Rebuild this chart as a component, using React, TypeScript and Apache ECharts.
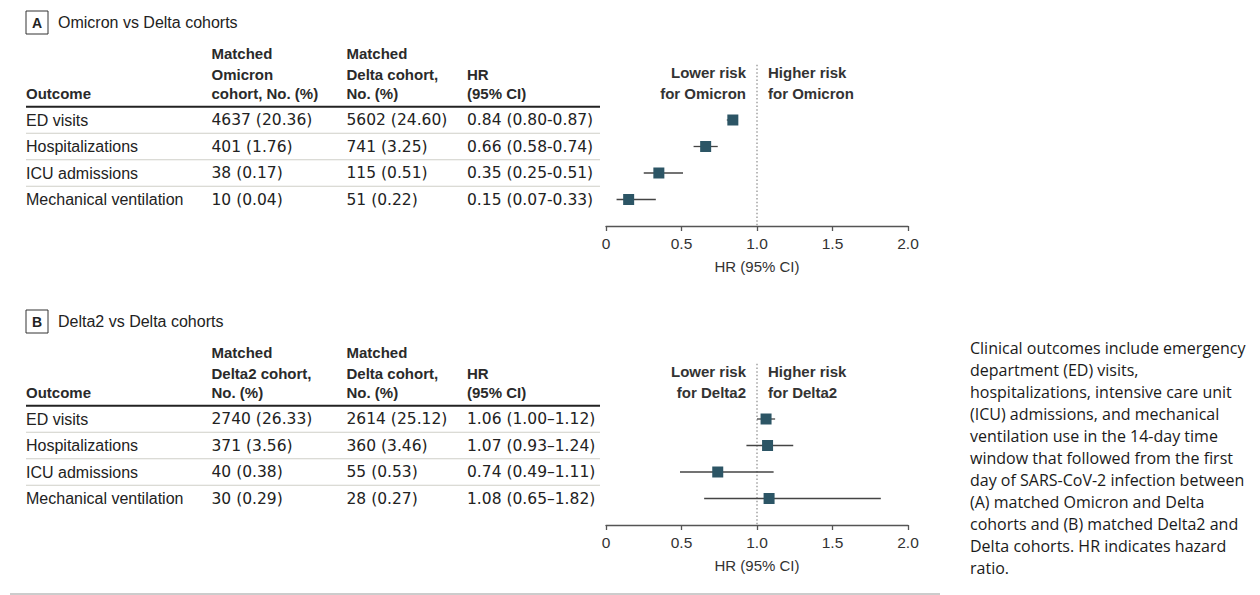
import React, { useEffect, useRef } from "react";
import * as echarts from "echarts";

// ---------- data ----------
const outcomes = ["ED visits", "Hospitalizations", "ICU admissions", "Mechanical ventilation"];

// Panel A: Omicron vs Delta
const omicronN = [4637, 401, 38, 10];
const omicronPct = [20.36, 1.76, 0.17, 0.04];
const deltaAN = [5602, 741, 115, 51];
const deltaAPct = [24.6, 3.25, 0.51, 0.22];
const hrA = [0.84, 0.66, 0.35, 0.15];
const loA = [0.8, 0.58, 0.25, 0.07];
const hiA = [0.87, 0.74, 0.51, 0.33];

// Panel B: Delta2 vs Delta
const delta2N = [2740, 371, 40, 30];
const delta2Pct = [26.33, 3.56, 0.38, 0.29];
const deltaBN = [2614, 360, 55, 28];
const deltaBPct = [25.12, 3.46, 0.53, 0.27];
const hrB = [1.06, 1.07, 0.74, 1.08];
const loB = [1.0, 0.93, 0.49, 0.65];
const hiB = [1.12, 1.24, 1.11, 1.82];

const xMin = 0;
const xMax = 2;
const xInterval = 0.5;
const REF_HR = 1;

const captionLines = [
  "Clinical outcomes include emergency",
  "department (ED) visits,",
  "hospitalizations, intensive care unit",
  "(ICU) admissions, and mechanical",
  "ventilation use in the 14-day time",
  "window that followed from the first",
  "day of SARS-CoV-2 infection between",
  "(A) matched Omicron and Delta",
  "cohorts and (B) matched Delta2 and",
  "Delta cohorts. HR indicates hazard",
  "ratio.",
];

// ---------- layout / style ----------
const FONT = '"Liberation Sans", Arial, sans-serif';
const NUMFONT = '"DejaVu Sans", sans-serif';
const CAPFONT = '"Open Sans", "Noto Sans", sans-serif';
const TXT = "#222";
const MARK = "#2c5565";
const PANEL_DY = 299;
const COLS = [26, 211.5, 346.5, 467];
const TABLE_RIGHT = 600;
const HEAD_Y = [53, 74, 93.5];
const GRID_TOP = 106.75;
const ROW_H = 26.5;
const GRID_LEFT = 606;
const GRID_W = 302;

type Panel = {
  letter: string;
  title: string;
  group: string;
  col2: string[];
  col3: string[];
  aN: number[];
  aPct: number[];
  bN: number[];
  bPct: number[];
  hr: number[];
  lo: number[];
  hi: number[];
  dash: string;
};

const panels: Panel[] = [
  {
    letter: "A",
    title: "Omicron vs Delta cohorts",
    group: "Omicron",
    col2: ["Matched", "Omicron", "cohort, No. (%)"],
    col3: ["Matched", "Delta cohort,", "No. (%)"],
    aN: omicronN,
    aPct: omicronPct,
    bN: deltaAN,
    bPct: deltaAPct,
    hr: hrA,
    lo: loA,
    hi: hiA,
    dash: "-",
  },
  {
    letter: "B",
    title: "Delta2 vs Delta cohorts",
    group: "Delta2",
    col2: ["Matched", "Delta2 cohort,", "No. (%)"],
    col3: ["Matched", "Delta cohort,", "No. (%)"],
    aN: delta2N,
    aPct: delta2Pct,
    bN: deltaBN,
    bPct: deltaBPct,
    hr: hrB,
    lo: loB,
    hi: hiB,
    dash: "\u2013",
  },
];

function txt(x: number, y: number, text: string, o: any = {}) {
  return {
    type: "text",
    x,
    y,
    silent: true,
    style: {
      text,
      fill: o.fill || TXT,
      fontSize: o.fontSize || 16,
      fontFamily: o.fontFamily || FONT,
      fontWeight: o.fontWeight || "normal",
      align: o.align || "left",
      verticalAlign: o.verticalAlign || "middle",
      lineHeight: o.lineHeight,
    },
  };
}

function hline(x1: number, x2: number, y: number, stroke: string, lineWidth: number) {
  return {
    type: "line",
    silent: true,
    shape: { x1, y1: y, x2, y2: y },
    style: { stroke, lineWidth },
  };
}

function tableGraphics(p: Panel, k: number) {
  const dy = k * PANEL_DY;
  const els: any[] = [];
  els.push({
    type: "rect",
    silent: true,
    shape: { x: 26, y: 11 + dy, width: 22, height: 23 },
    style: { fill: "#fff", stroke: "#333", lineWidth: 1 },
  });
  els.push(txt(37, 22.5 + dy, p.letter, { align: "center", fontWeight: "bold", fontSize: 14 }));
  els.push(txt(58, 22 + dy, p.title, { fontSize: 16 }));
  const hb = { fontWeight: "bold", fontSize: 15, fill: "#2a2a2a" };
  els.push(txt(COLS[0], HEAD_Y[2] + dy, "Outcome", hb));
  p.col2.forEach((t, i) => els.push(txt(COLS[1], HEAD_Y[i] + dy, t, hb)));
  p.col3.forEach((t, i) => els.push(txt(COLS[2], HEAD_Y[i] + dy, t, hb)));
  els.push(txt(COLS[3], HEAD_Y[1] + dy, "HR", hb));
  els.push(txt(COLS[3], HEAD_Y[2] + dy, "(95% CI)", hb));
  els.push(hline(26, TABLE_RIGHT, GRID_TOP + dy, "#222", 2));
  for (let i = 1; i < outcomes.length; i++) {
    els.push(hline(26, TABLE_RIGHT, GRID_TOP + i * ROW_H + dy, "#cfcfc8", 1));
  }
  outcomes.forEach((o, i) => {
    const y = GRID_TOP + (i + 0.5) * ROW_H + dy;
    els.push(txt(COLS[0], y, o));
    const nf = { fontFamily: NUMFONT, fontSize: 15.5 };
    els.push(txt(COLS[1], y, `${p.aN[i]} (${p.aPct[i].toFixed(2)})`, nf));
    els.push(txt(COLS[2], y, `${p.bN[i]} (${p.bPct[i].toFixed(2)})`, nf));
    els.push(
      txt(
        COLS[3],
        y,
        `${p.hr[i].toFixed(2)} (${p.lo[i].toFixed(2)}${p.dash}${p.hi[i].toFixed(2)})`,
        nf
      )
    );
  });
  return els;
}

function buildOption() {
  const graphic: any[] = [];
  panels.forEach((p, k) => graphic.push(...tableGraphics(p, k)));
  graphic.push(hline(10, 940, 594, "#999", 1));
  graphic.push({
    type: "text",
    x: 970,
    y: 337,
    silent: true,
    style: {
      text: captionLines.join("\n"),
      fill: "#1a1a1a",
      fontSize: 16,
      fontFamily: CAPFONT,
      lineHeight: 22,
      align: "left",
      verticalAlign: "top",
    },
  });

  const grid = panels.map((_, k) => ({
    left: GRID_LEFT,
    width: GRID_W,
    top: GRID_TOP + k * PANEL_DY,
    height: ROW_H * 4.5,
  }));

  const xAxis = panels.map((_, k) => ({
    gridIndex: k,
    type: "value",
    position: "bottom",
    min: xMin,
    max: xMax,
    interval: xInterval,
    name: "HR (95% CI)",
    nameLocation: "middle",
    nameGap: 33,
    nameTextStyle: { fontSize: 15, color: "#333", fontFamily: FONT },
    axisLine: { show: true, onZero: false, lineStyle: { color: "#555", width: 1.3 } },
    axisTick: { show: true, length: 5, lineStyle: { color: "#555", width: 1.3 } },
    axisLabel: {
      fontSize: 15.5,
      color: "#333",
      fontFamily: FONT,
      margin: 9,
      formatter: (v: number) => (v === 0 ? "0" : v.toFixed(1)),
    },
    splitLine: { show: false },
  }));

  const yAxis = panels.map((_, k) => ({
    gridIndex: k,
    type: "value",
    min: -0.5,
    max: 4,
    inverse: true,
    show: false,
  }));

  const series: any[] = [];
  panels.forEach((p, k) => {
    series.push({
      type: "custom",
      xAxisIndex: k,
      yAxisIndex: k,
      silent: true,
      clip: false,
      z: 1,
      data: [[REF_HR]],
      encode: { x: 0 },
      renderItem: (params: any, api: any) => {
        const c = api.coord([api.value(0), 0]);
        const cs = params.coordSys;
        const lab = (x: number, y: number, t: string, align: string) => ({
          type: "text",
          x,
          y,
          style: {
            text: t,
            fill: "#333",
            fontSize: 15,
            fontWeight: "bold",
            fontFamily: FONT,
            align,
            verticalAlign: "middle",
          },
        });
        return {
          type: "group",
          children: [
            {
              type: "line",
              shape: { x1: c[0], y1: cs.y - 42, x2: c[0], y2: cs.y + cs.height },
              style: { stroke: "#8a8a8a", lineWidth: 1.2, lineDash: [1.5, 2.2] },
            },
            lab(c[0] - 11, cs.y - 34, "Lower risk", "right"),
            lab(c[0] - 11, cs.y - 13.5, "for " + p.group, "right"),
            lab(c[0] + 11, cs.y - 34, "Higher risk", "left"),
            lab(c[0] + 11, cs.y - 13.5, "for " + p.group, "left"),
          ],
        };
      },
    });
    series.push({
      type: "custom",
      xAxisIndex: k,
      yAxisIndex: k,
      silent: true,
      clip: false,
      z: 2,
      data: p.hr.map((_, i) => [i, p.lo[i], p.hi[i]]),
      encode: { x: [1, 2], y: 0 },
      renderItem: (params: any, api: any) => {
        const a = api.coord([api.value(1), api.value(0)]);
        const b = api.coord([api.value(2), api.value(0)]);
        return {
          type: "line",
          shape: { x1: a[0], y1: a[1], x2: b[0], y2: b[1] },
          style: { stroke: "#444", lineWidth: 1.3 },
        };
      },
    });
    series.push({
      type: "scatter",
      xAxisIndex: k,
      yAxisIndex: k,
      silent: true,
      z: 3,
      symbol: "rect",
      symbolSize: 11,
      itemStyle: { color: MARK, opacity: 1 },
      data: p.hr.map((h, i) => [h, i]),
    });
  });

  return {
    animation: false,
    backgroundColor: "#fff",
    textStyle: { fontFamily: FONT },
    grid,
    xAxis,
    yAxis,
    series,
    graphic,
  };
}

export default function App() {
  const ref = useRef<HTMLDivElement>(null);
  useEffect(() => {
    if (!ref.current) return;
    const chart = echarts.init(ref.current, undefined, { renderer: "svg" });
    chart.setOption(buildOption() as any);
    return () => chart.dispose();
  }, []);
  return (
    <div
      ref={ref}
      style={{ position: "fixed", left: 0, top: 0, width: 1260, height: 595, background: "#fff" }}
    />
  );
}
